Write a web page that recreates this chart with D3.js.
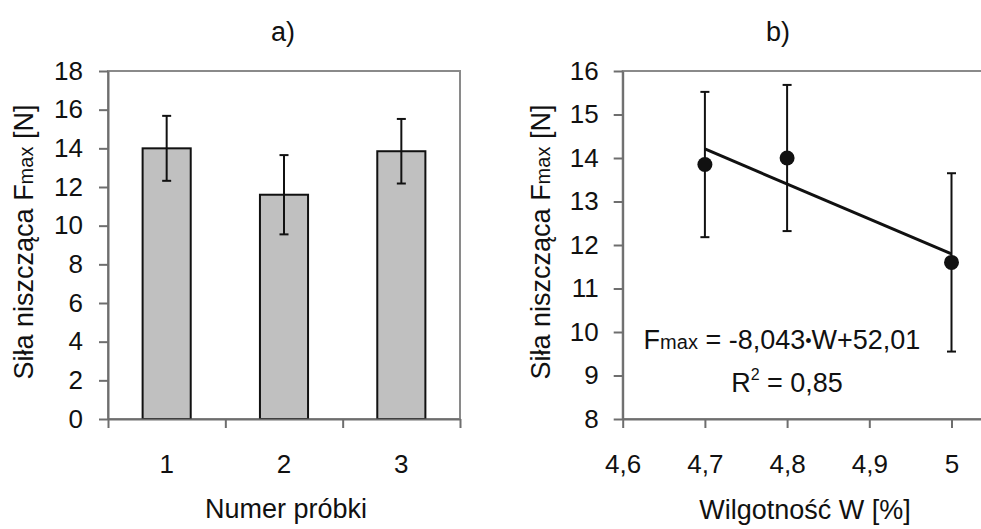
<!DOCTYPE html>
<html>
<head>
<meta charset="utf-8">
<script src="https://cdn.jsdelivr.net/npm/d3@7"></script>
<style>
    body { margin: 0; background: #fff; }
    svg { display: block; font-family: "Liberation Sans", Arial, sans-serif; }
    .axis path, .axis line { stroke: #6e6e6e; stroke-width: 2; }
    .axis text { font-size: 26px; fill: #111; font-family: "Liberation Sans", Arial, sans-serif; }
</style>
</head>
<body>
<svg id="vizSVG" width="981" height="529"></svg>
<script>
// Dane: numer próbki, średnia siła niszcząca, odchylenie, wilgotność
const samples = ['1', '2', '3']
const fmaxMean = [14.0, 11.6, 13.85]
const fmaxSd = [1.68, 2.05, 1.67]
const moisture = [4.8, 5.0, 4.7]
const leftTicks = [0, 2, 4, 6, 8, 10, 12, 14, 16, 18]
const rightTicksY = [8, 9, 10, 11, 12, 13, 14, 15, 16]
const rightTicksX = [4.6, 4.7, 4.8, 4.9, 5.0]
// Linia trendu Fmax = a*W + b
const trendSlope = -8.043
const trendIntercept = 52.01
const trendR2 = 0.85

const svg = d3.select('#vizSVG')
const comma = d => String(d).replace('.', ',')

// ---------- panel a) ----------
const ax = { left: 108, right: 460, top: 71, bottom: 419 }

const xBand = d3.scaleBand()
    .domain(samples)
    .range([ax.left, ax.right])
    .paddingInner(0.59)
    .paddingOuter(0.295)

const xEdges = d3.scaleLinear().domain([0, 3]).range([ax.left, ax.right])
const yA = d3.scaleLinear().domain([0, 18]).range([ax.bottom, ax.top])

const gA = svg.append('g')

// ramka
gA.append('rect')
    .attr('x', ax.left).attr('y', ax.top)
    .attr('width', ax.right - ax.left).attr('height', ax.bottom - ax.top)
    .attr('fill', 'none').attr('stroke', '#8a8a8a').attr('stroke-width', 2)

// słupki
gA.selectAll('rect.bar')
    .data(samples)
    .enter()
    .append('rect')
    .attr('class', 'bar')
    .attr('x', d => xBand(d))
    .attr('width', xBand.bandwidth())
    .attr('y', (d, i) => yA(fmaxMean[i]))
    .attr('height', (d, i) => yA(0) - yA(fmaxMean[i]))
    .attr('fill', '#c0c0c0')
    .attr('stroke', '#111')
    .attr('stroke-width', 2)

// słupki błędów
function errorBars(g, xs, means, sds, yScale) {
    const cap = 4.5
    const eb = g.selectAll('g.err').data(means).enter().append('g')
        .attr('stroke', '#111').attr('stroke-width', 2)
    eb.append('line')
        .attr('x1', (d, i) => xs[i]).attr('x2', (d, i) => xs[i])
        .attr('y1', (d, i) => yScale(d + sds[i])).attr('y2', (d, i) => yScale(d - sds[i]))
    eb.append('line')
        .attr('x1', (d, i) => xs[i] - cap).attr('x2', (d, i) => xs[i] + cap)
        .attr('y1', (d, i) => yScale(d + sds[i])).attr('y2', (d, i) => yScale(d + sds[i]))
    eb.append('line')
        .attr('x1', (d, i) => xs[i] - cap).attr('x2', (d, i) => xs[i] + cap)
        .attr('y1', (d, i) => yScale(d - sds[i])).attr('y2', (d, i) => yScale(d - sds[i]))
}
errorBars(gA, samples.map(s => xBand(s) + xBand.bandwidth() / 2), fmaxMean, fmaxSd, yA)

// osie
gA.append('g').attr('class', 'axis')
    .attr('transform', `translate(${ax.left},0)`)
    .call(d3.axisLeft(yA).tickValues(leftTicks).tickSize(9).tickPadding(16).tickSizeOuter(0))

gA.append('g').attr('class', 'axis')
    .attr('transform', `translate(0,${ax.bottom})`)
    .call(d3.axisBottom(xEdges).tickValues([0, 1, 2, 3]).tickFormat('').tickSize(9).tickSizeOuter(0))

gA.append('g').attr('class', 'axis')
    .attr('transform', `translate(0,${ax.bottom})`)
    .call(d3.axisBottom(xBand).tickSize(0).tickPadding(36))
    .call(g => g.select('.domain').remove())

// ---------- panel b) ----------
const bx = { left: 622.7, top: 71, bottom: 419 }
const xB = d3.scaleLinear().domain([4.6, 5.05]).range([bx.left, bx.left + 0.45 * 822])
const yB = d3.scaleLinear().domain([8, 16]).range([bx.bottom, bx.top])

const gB = svg.append('g')

gB.append('rect')
    .attr('x', bx.left).attr('y', bx.top)
    .attr('width', xB.range()[1] - bx.left).attr('height', bx.bottom - bx.top)
    .attr('fill', 'none').attr('stroke', '#8a8a8a').attr('stroke-width', 2)

errorBars(gB, moisture.map(w => xB(w)), fmaxMean, fmaxSd, yB)

// linia trendu
const wExt = d3.extent(moisture)
gB.append('path')
    .datum(wExt)
    .attr('d', d3.line().x(w => xB(w)).y(w => yB(trendSlope * w + trendIntercept)))
    .attr('stroke', '#111')
    .attr('stroke-width', 3)
    .attr('fill', 'none')

gB.selectAll('circle')
    .data(fmaxMean)
    .enter()
    .append('circle')
    .attr('cx', (d, i) => xB(moisture[i]))
    .attr('cy', d => yB(d))
    .attr('r', 7.5)
    .attr('fill', '#111')

gB.append('g').attr('class', 'axis')
    .attr('transform', `translate(${bx.left},0)`)
    .call(d3.axisLeft(yB).tickValues(rightTicksY).tickSize(9).tickPadding(15).tickSizeOuter(0))

gB.append('g').attr('class', 'axis')
    .attr('transform', `translate(0,${bx.bottom})`)
    .call(d3.axisBottom(xB).tickValues(rightTicksX).tickFormat(comma).tickSize(9).tickPadding(27).tickSizeOuter(0))

// równanie
const eq = gB.append('text')
    .attr('x', 782).attr('y', 349)
    .attr('text-anchor', 'middle')
    .attr('font-size', 27).attr('fill', '#111')
eq.append('tspan').text('F')
eq.append('tspan').attr('font-size', 20).text('max')
eq.append('tspan').text(` = ${comma(trendSlope)}`)
eq.append('tspan').attr('font-size', 18).attr('dy', -2).text('•')
eq.append('tspan').attr('dy', 2).text(`W+${comma(trendIntercept)}`)

const r2 = gB.append('text')
    .attr('x', 787).attr('y', 392)
    .attr('text-anchor', 'middle')
    .attr('font-size', 27).attr('fill', '#111')
r2.append('tspan').text('R')
r2.append('tspan').attr('font-size', 16).attr('dy', -12).text('2')
r2.append('tspan').attr('dy', 12).text(` = ${comma(trendR2)}`)

// ---------- teksty ----------
const labels = svg.append('g').attr('fill', '#111').attr('font-size', 27)

labels.append('text').attr('x', 283).attr('y', 41).attr('text-anchor', 'middle').text('a)')
labels.append('text').attr('x', 778).attr('y', 41).attr('text-anchor', 'middle').text('b)')
labels.append('text').attr('x', 286).attr('y', 518).attr('text-anchor', 'middle').text('Numer próbki')
labels.append('text').attr('x', 805).attr('y', 519).attr('text-anchor', 'middle').text('Wilgotność W [%]')

function yLabel(x) {
    const t = labels.append('text')
        .attr('transform', `translate(${x},242) rotate(-90)`)
        .attr('text-anchor', 'middle')
    t.append('tspan').text('Siła niszcząca F')
    t.append('tspan').attr('font-size', 20).text('max')
    t.append('tspan').text(' [N]')
}
yLabel(33)
yLabel(550)
</script>
</body>
</html>
